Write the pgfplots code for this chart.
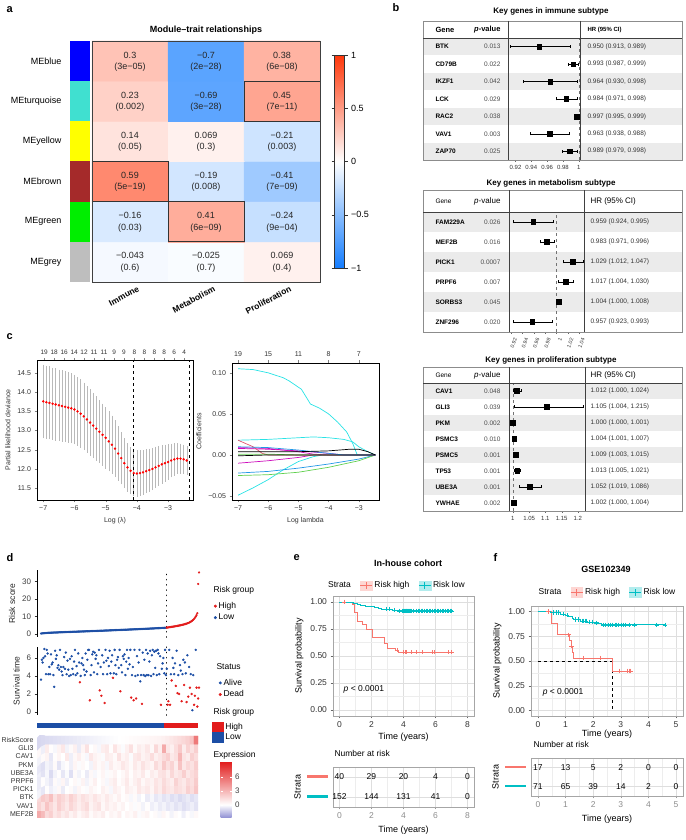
\documentclass[border=0pt]{standalone}
\usepackage{fontspec}
\setmainfont{Liberation Sans}
\usepackage{pgfplots}
\pgfplotsset{compat=1.18}
\definecolor{kmred}{RGB}{248,118,109}
\definecolor{kmteal}{RGB}{0,191,196}
\definecolor{dred}{RGB}{226,28,28}
\definecolor{dblue}{RGB}{28,78,165}
\definecolor{rred}{RGB}{223,83,107}
\definecolor{rgreen}{RGB}{97,208,79}
\definecolor{rblue}{RGB}{34,151,230}
\definecolor{rcyan}{RGB}{40,226,229}
\definecolor{rmag}{RGB}{205,11,188}
\definecolor{rowgray}{RGB}{235,235,235}
\definecolor{stripblue}{RGB}{0,0,255}
\definecolor{stripturq}{RGB}{64,224,208}
\definecolor{stripyellow}{RGB}{255,255,0}
\definecolor{stripbrown}{RGB}{165,42,42}
\definecolor{stripgreen}{RGB}{0,238,0}
\definecolor{stripgrey}{RGB}{190,190,190}
\newcommand\fs[1]{\fontsize{#1}{#1}\selectfont}
\newcommand\frow[5]{%
\node[anchor=west, font=\fs{6.5}\bfseries] at (432,#1) {#2};
\node[anchor=east, font=\fs{6.5}, text=black!70] at (504,#1) {#3};
\node[anchor=west, font=\fs{6.5}, text=black!80] at (#5,#1) {#4};}
\newcommand\kmkey[1]{\fill[#1!30] (0cm,-0.17cm) rectangle (0.42cm,0.17cm); \draw[#1, line width=0.7pt] (0cm,0cm) -- (0.42cm,0cm) (0.21cm,-0.11cm) -- (0.21cm,0.11cm);}
\pgfplotsset{every axis/.append style={scale only axis},
  /pgf/number format/assume math mode=true}
\begin{document}
\begin{tikzpicture}[font=\fs{7}]
\path[use as bounding box] (0,0) rectangle (685pt,840pt);

% ---------- backgrounds (pixel coordinates) ----------
\begin{scope}[x=1pt,y=-1pt,shift={(0pt,840pt)}]
\fill[rowgray] (423,38) rectangle (682,55.43);
\fill[rowgray] (423,72.86) rectangle (682,90.29);
\fill[rowgray] (423,107.71) rectangle (682,125.14);
\fill[rowgray] (423,142.57) rectangle (682,160);
\fill[rowgray] (423,212) rectangle (682,232);
\fill[rowgray] (423,252) rectangle (682,272);
\fill[rowgray] (423,292) rectangle (682,312);
\fill[rowgray] (423,383) rectangle (682,399);
\fill[rowgray] (423,415) rectangle (682,431);
\fill[rowgray] (423,447) rectangle (682,463);
\fill[rowgray] (423,479) rectangle (682,495);
\end{scope}

% ---------- panel a ----------
\begin{axis}[at={(92pt,799pt)}, anchor=north west, width=228pt, height=241pt,
  xmin=-0.5, xmax=2.5, ymin=-0.5, ymax=5.5, clip=false, axis on top,
  axis line style={black!75, line width=0.9pt},
  colormap={bwr}{rgb255(0cm)=(20,125,255); rgb255(1cm)=(255,255,255); rgb255(2cm)=(255,55,10)},
  point meta min=-1, point meta max=1,
  xtick={0,1,2}, xticklabels={Immune,Metabolism,Proliferation},
  xticklabel style={rotate=28, anchor=north east, font=\fs{8.5}\bfseries, xshift=8pt, yshift=-3pt},
  ytick={0,1,2,3,4,5}, yticklabels={MEgrey,MEgreen,MEbrown,MEyellow,MEturquoise,MEblue},
  yticklabel style={xshift=-27pt, font=\fs{9}},
  major tick length=0pt,
  title={Module–trait relationships}, title style={font=\fs{9}\bfseries, yshift=-3pt},
  colorbar,
  colorbar style={anchor=north west, at={(parent axis.north east)}, xshift=6pt, yshift=-14pt,
     width=10pt, height=213pt, ytick={-1,-0.5,0,0.5,1}, yticklabels={−1,−0.5,0,0.5,1},
     yticklabel style={font=\fs{9}}, tick align=outside, major tick length=3pt,
     axis line style={black!80}, tick style={black!80}}]
\addplot[matrix plot*, mesh/cols=3, point meta=explicit] table[meta=c] {
x y c
0 0 -0.043
1 0 -0.025
2 0 0.069
0 1 -0.16
1 1 0.41
2 1 -0.24
0 2 0.59
1 2 -0.19
2 2 -0.41
0 3 0.14
1 3 0.069
2 3 -0.21
0 4 0.23
1 4 -0.69
2 4 0.45
0 5 0.3
1 5 -0.7
2 5 0.38
};
\addplot[draw=none, nodes near coords, point meta=explicit symbolic,
  every node near coord/.append style={anchor=center, font=\fs{9}, text=black!85}] table[meta=t] {
x y t
0 5.15 0.3
1 5.15 −0.7
2 5.15 0.38
0 4.15 0.23
1 4.15 −0.69
2 4.15 0.45
0 3.15 0.14
1 3.15 0.069
2 3.15 −0.21
0 2.15 0.59
1 2.15 −0.19
2 2.15 −0.41
0 1.15 −0.16
1 1.15 0.41
2 1.15 −0.24
0 0.15 −0.043
1 0.15 −0.025
2 0.15 0.069
};
\addplot[draw=none, nodes near coords, point meta=explicit symbolic,
  every node near coord/.append style={anchor=center, font=\fs{9}, text=black!85}] table[meta=t] {
x y t
0 4.85 (3e−05)
1 4.85 (2e−28)
2 4.85 (6e−08)
0 3.85 (0.002)
1 3.85 (3e−28)
2 3.85 (7e−11)
0 2.85 (0.05)
1 2.85 (0.3)
2 2.85 (0.003)
0 1.85 (5e−19)
1 1.85 (0.008)
2 1.85 (7e−09)
0 0.85 (0.03)
1 0.85 (6e−09)
2 0.85 (9e−04)
0 -0.15 (0.6)
1 -0.15 (0.7)
2 -0.15 (0.4)
};
\fill[stripblue] (axis cs:-0.79,4.5) rectangle (axis cs:-0.53,5.5);
\fill[stripturq] (axis cs:-0.79,3.5) rectangle (axis cs:-0.53,4.5);
\fill[stripyellow] (axis cs:-0.79,2.5) rectangle (axis cs:-0.53,3.5);
\fill[stripbrown] (axis cs:-0.79,1.5) rectangle (axis cs:-0.53,2.5);
\fill[stripgreen] (axis cs:-0.79,0.5) rectangle (axis cs:-0.53,1.5);
\fill[stripgrey] (axis cs:-0.79,-0.5) rectangle (axis cs:-0.53,0.5);
\draw[black!80, line width=0.9pt] (axis cs:-0.5,1.5) rectangle (axis cs:0.5,2.5);
\draw[black!80, line width=0.9pt] (axis cs:0.5,0.5) rectangle (axis cs:1.5,1.5);
\draw[black!80, line width=0.9pt] (axis cs:1.5,3.5) rectangle (axis cs:2.5,4.5);
\end{axis}

% ---------- panel b: forest plots ----------
\begin{axis}[at={(508pt,802pt)}, anchor=north west, width=72pt, height=122pt,
  xmin=0.9105, xmax=1.0016, ymin=0.5, ymax=7.5, clip=false,
  axis y line=none, axis x line*=bottom, axis line style={black!60, line width=0.6pt},
  xtick={0.92,0.94,0.96,0.98,1}, xticklabels={0.92,0.94,0.96,0.98,1},
  tick align=outside, major tick length=2pt, tick style={black!60},
  xticklabel style={font=\fs{6}, text=black!80}]
\addplot[black!55, dashed] coordinates {(1,0.5) (1,7.5)};
\addplot[only marks, mark=square*, mark size=2.4pt, black,
  error bars/.cd, x dir=both, x explicit, error bar style={black, line width=0.45pt},
  error mark options={rotate=90, mark size=1.5pt, black}]
  coordinates {
  (0.950,7) += (0.039,0) -= (0.037,0)
  (0.993,6) += (0.006,0) -= (0.006,0)
  (0.964,5) += (0.034,0) -= (0.034,0)
  (0.984,4) += (0.014,0) -= (0.013,0)
  (0.997,3) += (0.002,0) -= (0.002,0)
  (0.963,2) += (0.025,0) -= (0.025,0)
  (0.989,1) += (0.009,0) -= (0.010,0)
};
\end{axis}

\begin{axis}[at={(509pt,628pt)}, anchor=north west, width=75pt, height=120pt,
  xmin=0.916, xmax=1.049, ymin=0.5, ymax=6.5, clip=false,
  axis y line=none, axis x line*=bottom, axis line style={black!60, line width=0.6pt},
  xtick={0.92,0.94,0.96,0.98,1,1.02,1.04}, xticklabels={0.92,0.94,0.96,0.98,1,1.02,1.04},
  tick align=outside, major tick length=2pt, tick style={black!60},
  xticklabel style={font=\fs{5.2}, text=black!80, rotate=70, anchor=north east, xshift=1pt}]
\addplot[black!55, dashed] coordinates {(1,0.5) (1,6.5)};
\addplot[only marks, mark=square*, mark size=2.4pt, black,
  error bars/.cd, x dir=both, x explicit, error bar style={black, line width=0.45pt},
  error mark options={rotate=90, mark size=1.5pt, black}]
  coordinates {
  (0.959,6) += (0.036,0) -= (0.035,0)
  (0.983,5) += (0.013,0) -= (0.012,0)
  (1.029,4) += (0.018,0) -= (0.017,0)
  (1.017,3) += (0.013,0) -= (0.013,0)
  (1.004,2) += (0.004,0) -= (0.004,0)
  (0.957,1) += (0.036,0) -= (0.034,0)
};
\end{axis}

\begin{axis}[at={(509pt,457pt)}, anchor=north west, width=76pt, height=128pt,
  xmin=0.988, xmax=1.222, ymin=0.5, ymax=8.5, clip=false,
  axis y line=none, axis x line*=bottom, axis line style={black!60, line width=0.6pt},
  xtick={1,1.05,1.1,1.15,1.2}, xticklabels={1,1.05,1.1,1.15,1.2},
  tick align=outside, major tick length=2pt, tick style={black!60},
  xticklabel style={font=\fs{6}, text=black!80}]
\addplot[black!55, dashed] coordinates {(1,0.5) (1,8.5)};
\addplot[only marks, mark=square*, mark size=2.4pt, black,
  error bars/.cd, x dir=both, x explicit, error bar style={black, line width=0.45pt},
  error mark options={rotate=90, mark size=1.5pt, black}]
  coordinates {
  (1.012,8) += (0.012,0) -= (0.012,0)
  (1.105,7) += (0.110,0) -= (0.101,0)
  (1.000,6) += (0.001,0) -= (0.000,0)
  (1.004,5) += (0.003,0) -= (0.003,0)
  (1.009,4) += (0.006,0) -= (0.006,0)
  (1.013,3) += (0.008,0) -= (0.008,0)
  (1.052,2) += (0.034,0) -= (0.033,0)
  (1.002,1) += (0.002,0) -= (0.002,0)
};
\end{axis}

% ---------- panel c left ----------
\begin{axis}[at={(37pt,480pt)}, anchor=north west, width=156pt, height=140pt,
  xmin=-7.2, xmax=-2.2, ymin=11.19, ymax=14.84,
  xtick={-7,-6,-5,-4,-3}, xticklabels={−7,−6,−5,−4,−3},
  ytick={11.5,12,12.5,13,13.5,14,14.5}, yticklabels={11.5,12.0,12.5,13.0,13.5,14.0,14.5},
  tick align=outside, tick pos=left, major tick length=2.5pt,
  tick label style={font=\fs{7}, text=black!80},
  xlabel={Log (λ)}, ylabel={Partial likelihood deviance}, label style={font=\fs{7}, text=black!80},
  axis line style={line width=0.7pt}]
\addplot[only marks, mark=*, mark size=1pt, red,
  error bars/.cd, y dir=both, y explicit, error bar style={gray!55, line width=0.5pt},
  error mark options={gray!55, mark size=1.6pt, line width=0.5pt}]
  table[x=x, y=y, y error=e] {
x y e
-7.0 13.76 0.92
-6.9 13.74 0.91
-6.8 13.72 0.91
-6.7 13.70 0.90
-6.6 13.68 0.90
-6.5 13.66 0.89
-6.4 13.64 0.89
-6.3 13.62 0.88
-6.2 13.60 0.88
-6.1 13.58 0.87
-6.0 13.55 0.87
-5.9 13.50 0.86
-5.8 13.44 0.85
-5.7 13.37 0.84
-5.6 13.29 0.83
-5.5 13.21 0.82
-5.4 13.13 0.81
-5.3 13.05 0.80
-5.2 12.97 0.78
-5.1 12.89 0.77
-5.0 12.81 0.76
-4.9 12.72 0.74
-4.8 12.63 0.72
-4.7 12.53 0.70
-4.6 12.40 0.67
-4.5 12.28 0.64
-4.4 12.15 0.61
-4.3 12.04 0.59
-4.2 11.95 0.57
-4.1 11.89 0.56
-4.0 11.88 0.56
-3.9 11.89 0.55
-3.8 11.91 0.54
-3.7 11.94 0.53
-3.6 11.97 0.52
-3.5 12.00 0.51
-3.4 12.04 0.50
-3.3 12.08 0.48
-3.2 12.12 0.46
-3.1 12.15 0.44
-3.0 12.18 0.42
-2.9 12.22 0.40
-2.8 12.25 0.38
-2.7 12.27 0.36
-2.6 12.27 0.35
-2.5 12.25 0.34
-2.4 12.22 0.34
};
\addplot[black, dashed, line width=0.7pt] coordinates {(-4.1,11.19) (-4.1,14.84)};
\addplot[black, dashed, line width=0.7pt] coordinates {(-2.33,11.19) (-2.33,14.84)};
\end{axis}
\begin{axis}[at={(37pt,480pt)}, anchor=north west, width=156pt, height=140pt,
  xmin=-7.2, xmax=-2.2, ymin=0, ymax=1, axis x line*=top, axis y line=none,
  axis line style={line width=0.7pt},
  xtick={-6.97,-6.65,-6.33,-6.01,-5.69,-5.37,-5.05,-4.73,-4.41,-4.08,-3.76,-3.44,-3.12,-2.80,-2.48},
  xticklabels={19,18,16,14,12,11,11,9,9,8,8,8,8,6,4},
  tick align=outside, major tick length=1.5pt, xticklabel style={font=\fs{6.5}, text=black!80}]
\addplot[draw=none] coordinates {(-5,0.5)};
\end{axis}

% ---------- panel c right ----------
\begin{axis}[at={(232pt,477pt)}, anchor=north west, width=147pt, height=137pt,
  xmin=-7.2, xmax=-2.33, ymin=-0.0548, ymax=0.112,
  xtick={-7,-6,-5,-4,-3}, xticklabels={−7,−6,−5,−4,−3},
  ytick={-0.05,0,0.05,0.1}, yticklabels={−0.05,0.00,0.05,0.10},
  tick align=outside, tick pos=left, major tick length=2.5pt,
  tick label style={font=\fs{7}, text=black!80},
  xlabel={Log lambda}, ylabel={Coefficients}, label style={font=\fs{7}, text=black!80},
  axis line style={line width=0.7pt}]
\addplot[rcyan, line width=0.7pt] coordinates {(-7,0.105)(-6.5,0.104)(-6,0.100)(-5.5,0.094)(-5.3,0.090)(-4.9,0.080)(-4.6,0.062)(-4.3,0.057)(-4.0,0.050)(-3.7,0.040)(-3.4,0.028)(-3.2,0.014)(-3.05,0)(-2.45,0)};
\addplot[rcyan, line width=0.7pt] coordinates {(-7,0.018)(-6,0.019)(-5,0.021)(-4.5,0.022)(-4,0.021)(-3.5,0.019)(-3.2,0.016)(-3,0.010)(-2.7,0.004)(-2.45,0)};
\addplot[rcyan, line width=0.7pt] coordinates {(-7,-0.049)(-6.5,-0.040)(-6,-0.030)(-5.5,-0.018)(-5,-0.008)(-4.5,-0.002)(-4.2,0)(-2.45,0)};
\addplot[rblue, line width=0.7pt] coordinates {(-7,-0.022)(-6,-0.020)(-5,-0.016)(-4,-0.011)(-3,-0.005)(-2.45,0)};
\addplot[rgreen, line width=0.7pt] coordinates {(-7,-0.025)(-6,-0.024)(-5,-0.021)(-4,-0.015)(-3,-0.007)(-2.45,0)};
\addplot[rmag, line width=0.7pt] coordinates {(-7,0.008)(-6,0.007)(-5,0.005)(-4,0.002)(-3.5,0)(-2.45,0)};
\addplot[rmag, line width=0.7pt] coordinates {(-7,-0.010)(-6,-0.007)(-5,-0.003)(-4.5,0)(-2.45,0)};
\addplot[rmag, line width=0.7pt] coordinates {(-7,0.009)(-6,0.008)(-5,0.004)(-4.5,0.001)(-4,0)(-2.45,0)};
\addplot[rred, line width=0.7pt] coordinates {(-7,0.018)(-6.5,0.010)(-6.2,0.002)(-6,0)(-2.45,0)};
\addplot[rgreen, line width=0.7pt] coordinates {(-7,0.001)(-6,0.001)(-5,0)(-2.45,0)};
\addplot[rblue, line width=0.7pt] coordinates {(-7,0.010)(-6,0.009)(-5,0.006)(-4,0.002)(-3.5,0)(-2.45,0)};
\addplot[black, line width=0.7pt] coordinates {(-7,-0.001)(-6,0)(-2.45,0)};
\addplot[black, line width=0.7pt] coordinates {(-7,0.004)(-6,0.004)(-5,0.004)(-4,0.005)(-3.3,0.007)(-3,0.007)(-2.7,0.004)(-2.45,0)};
\end{axis}
\begin{axis}[at={(232pt,477pt)}, anchor=north west, width=147pt, height=137pt,
  xmin=-7.2, xmax=-2.33, ymin=0, ymax=1, axis x line*=top, axis y line=none,
  axis line style={line width=0.7pt},
  xtick={-7,-6,-5,-4,-3}, xticklabels={19,15,11,8,7},
  tick align=outside, major tick length=2.5pt, xticklabel style={font=\fs{7}, text=black!80}]
\addplot[draw=none] coordinates {(-5,0.5)};
\end{axis}

% ---------- panel d ----------
\begin{axis}[at={(37pt,270pt)}, anchor=north west, width=164pt, height=67pt,
  xmin=-3.84, xmax=194.4, ymin=-1.7, ymax=36.6, clip=false,
  axis x line=none, axis y line*=left, ytick={0,10,20,30},
  tick align=outside, major tick length=2.5pt, tick style={black!80},
  yticklabel style={font=\fs{8}, text=black!75}, ylabel={Risk score}, ylabel style={font=\fs{8.5}, text=black!85},
  legend style={at={(1.06,0.58)}, anchor=north west, draw=none, fill=none, font=\fs{8.5}, row sep=0pt},
  legend cell align=left]
\addplot[only marks, mark=*, mark size=0.9pt, dblue, forget plot]
  table[header=false, row sep=\\, x expr=\coordindex+1, y index=0] {
0.28\\0.35\\0.41\\0.46\\0.50\\0.54\\0.58\\0.61\\0.64\\0.67\\
0.70\\0.72\\0.75\\0.77\\0.79\\0.82\\0.84\\0.86\\0.88\\0.90\\
0.92\\0.94\\0.96\\0.98\\1.00\\1.02\\1.04\\1.06\\1.08\\1.10\\
1.12\\1.13\\1.15\\1.17\\1.19\\1.21\\1.22\\1.24\\1.26\\1.28\\
1.30\\1.31\\1.33\\1.35\\1.37\\1.38\\1.40\\1.42\\1.44\\1.45\\
1.47\\1.49\\1.51\\1.52\\1.54\\1.56\\1.58\\1.59\\1.61\\1.63\\
1.65\\1.67\\1.68\\1.70\\1.72\\1.74\\1.76\\1.77\\1.79\\1.81\\
1.83\\1.85\\1.87\\1.88\\1.90\\1.92\\1.94\\1.96\\1.98\\2.00\\
2.02\\2.04\\2.06\\2.08\\2.10\\2.12\\2.14\\2.16\\2.18\\2.20\\
2.22\\2.24\\2.26\\2.28\\2.30\\2.32\\2.34\\2.36\\2.38\\2.40\\
2.42\\2.44\\2.46\\2.48\\2.50\\2.52\\2.54\\2.57\\2.59\\2.61\\
2.63\\2.65\\2.67\\2.69\\2.71\\2.73\\2.76\\2.78\\2.80\\2.82\\
2.84\\2.86\\2.88\\2.91\\2.93\\2.95\\2.97\\2.99\\3.02\\3.04\\
3.06\\3.08\\3.11\\3.13\\3.15\\3.18\\3.20\\3.22\\3.25\\3.27\\
3.30\\3.32\\3.35\\3.37\\3.40\\3.42\\3.45\\3.48\\3.50\\3.53\\
3.56\\3.59\\
};
\addplot[only marks, mark=*, mark size=0.9pt, dred, forget plot]
  table[header=false, row sep=\\, x expr=\coordindex+153, y index=0] {
3.65\\3.72\\3.80\\3.88\\3.95\\4.03\\4.10\\4.18\\4.25\\4.33\\
4.41\\4.50\\4.58\\4.67\\4.76\\4.86\\4.96\\5.06\\5.17\\5.28\\
5.40\\5.53\\5.66\\5.80\\5.96\\6.13\\6.32\\6.53\\6.77\\7.05\\
7.36\\7.72\\8.15\\8.65\\9.25\\9.95\\10.8\\11.9\\28.6\\35.2\\
};
\addplot[black, line width=1.6pt, dash pattern=on 0.01pt off 5.2pt, line cap=round, forget plot]
  coordinates {(152.5,-1.7) (152.5,36.6)};
\addlegendimage{only marks, mark=*, mark size=1.3pt, dred}
\addlegendentry{High}
\addlegendimage{only marks, mark=*, mark size=1.3pt, dblue}
\addlegendentry{Low}
\end{axis}

\begin{axis}[at={(37pt,193pt)}, anchor=north west, width=164pt, height=68pt,
  xmin=-3.84, xmax=194.4, ymin=-0.333, ymax=7.22, clip=false,
  axis x line=none, axis y line*=left, ytick={0,2,4,6},
  tick align=outside, major tick length=2.5pt, tick style={black!80},
  yticklabel style={font=\fs{8}, text=black!75}, ylabel={Survival time}, ylabel style={font=\fs{8.5}, text=black!85},
  legend style={at={(1.09,0.59)}, anchor=north west, draw=none, fill=none, font=\fs{8.5}, row sep=0pt},
  legend cell align=left]
\addplot[only marks, mark=*, mark size=1pt, dblue, forget plot] coordinates {
(1,3.6)(2,5.8)(3,5.5)(4,6.0)(5,7.0)(6,6.2)(7,4.2)(8,6.9)(9,6.5)(10,4.2)(11,5.0)(12,4.2)(13,6.4)(14,5.3)(15,5.5)(16,4.1)(17,2.8)(18,6.8)(19,5.9)(20,6.3)(21,4.9)(22,5.2)(23,4.7)(24,6.9)(25,5.0)(26,4.5)(27,4.1)(28,5.0)(29,6.1)(30,4.8)(31,6.6)(32,4.2)(33,5.7)(34,4.7)(35,4.0)(36,5.9)(37,4.1)(38,6.2)(39,4.8)(40,4.2)(41,5.6)(42,6.9)(43,4.1)(44,5.1)(45,4.3)(46,6.5)(47,5.5)(49,4.0)(50,5.4)(51,6.0)(52,5.2)(53,4.7)(54,4.1)(55,6.5)(56,4.5)(57,5.8)(58,6.9)(59,6.9)(61,4.1)(62,5.2)(63,6.4)(64,6.7)(65,4.4)(66,6.6)(67,5.9)(68,6.3)(69,4.2)(70,5.4)(71,6.9)(73,5.0)(75,6.3)(76,4.2)(77,5.5)(79,6.9)(80,5.7)(81,4.2)(82,6.0)(83,5.1)(84,6.8)(85,4.3)(86,5.6)(87,6.3)(89,4.3)(90,6.9)(91,5.2)(92,4.2)(93,5.8)(94,6.1)(95,4.9)(96,6.9)(98,5.2)(99,4.4)(100,6.2)(101,5.9)(102,6.4)(103,4.1)(104,5.6)(105,6.9)(106,4.8)(107,6.0)(108,5.3)(109,6.9)(111,4.1)(112,5.0)(114,6.9)(115,4.0)(117,6.2)(118,4.1)(119,5.5)(120,6.9)(121,3.4)(122,4.1)(124,6.6)(125,4.1)(126,5.8)(127,4.0)(128,6.9)(129,4.1)(130,6.5)(131,4.1)(132,5.6)(133,6.8)(134,4.0)(135,6.3)(136,6.9)(137,4.2)(138,6.7)(139,4.9)(140,6.8)(141,4.1)(142,6.9)(143,6.5)(144,4.2)(145,6.2)(147,4.8)(148,5.4)(149,6.0)(150,4.3)(151,6.9)(152,4.1)
(153,4.8)(156,6.9)(158,4.2)(160,6.0)(161,4.9)(162,4.2)(163,5.4)(165,6.8)(167,4.1)(169,5.2)(170,4.6)(172,4.2)(173,5.8)(175,5.5)(176,4.3)(178,6.3)(180,5.0)(182,4.2)(184,0.2)(185,4.1)(188,6.9)
};
\addplot[only marks, mark=*, mark size=1pt, dred, forget plot] coordinates {
(48,3.3)(60,1.3)(72,2.4)(74,1.8)(78,1.0)(88,3.8)(97,2.3)(110,1.6)(113,1.3)(116,1.5)(123,0.9)(146,0.8)(154,0.8)(155,1.2)(157,0.8)(159,3.5)(164,2.9)(166,2.1)(168,2.0)(171,1.2)(174,3.0)(177,1.1)(179,1.7)(181,2.7)(183,2.0)(186,0.8)(187,1.8)(189,2.7)(190,0.6)(191,1.5)(192,2.7)
};
\addplot[black, line width=1.6pt, dash pattern=on 0.01pt off 5.2pt, line cap=round, forget plot]
  coordinates {(152.5,-0.333) (152.5,7.22)};
\addlegendimage{only marks, mark=*, mark size=1.3pt, dblue}
\addlegendentry{Alive}
\addlegendimage{only marks, mark=*, mark size=1.3pt, dred}
\addlegendentry{Dead}
\end{axis}

\begin{axis}[at={(37pt,117pt)}, anchor=north west, width=161pt, height=5pt,
  xmin=0.5, xmax=192.5, ymin=0, ymax=1, hide axis, clip=false,
  legend style={at={(1.087,1.4)}, anchor=north west, draw=none, fill=none, font=\fs{8.5}, row sep=-1pt, inner sep=0pt},
  legend cell align=left]
\addplot[fill=dblue, draw=none, forget plot] coordinates {(0.5,1) (152.5,1)} \closedcycle;
\addplot[fill=dred, draw=none, forget plot] coordinates {(152.5,1) (192.5,1)} \closedcycle;
\addlegendimage{legend image code/.code={\fill[dred] (0cm,-0.18cm) rectangle (0.38cm,0.18cm);}}
\addlegendentry{High}
\addlegendimage{legend image code/.code={\fill[dblue] (0cm,-0.18cm) rectangle (0.38cm,0.18cm);}}
\addlegendentry{Low}
\end{axis}

\begin{axis}[at={(37pt,104pt)}, anchor=north west, width=161pt, height=82pt,
  xmin=-0.5, xmax=39.5, ymin=-0.5, ymax=9.5,
  axis line style={draw=none}, xtick=\empty, ytick={0,1,2,3,4,5,6,7,8,9},
  yticklabels={MEF2B,VAV1,BTK,PICK1,PRPF6,UBE3A,PKM,CAV1,GLI3,RiskScore},
  yticklabel style={font=\fs{7}, text=black!80}, major tick length=0pt,
  colormap={expr}{rgb255(0cm)=(140,140,210); rgb255(2.9cm)=(255,255,255); rgb255(12.2cm)=(226,30,30)},
  point meta min=-2.9, point meta max=9.3,
  colorbar, colorbar style={anchor=north west, at={(parent axis.north east)}, xshift=14pt, yshift=-26pt,
    width=11pt, height=56pt, ytick={0,3,6}, yticklabel style={font=\fs{8}, text=black!75},
    axis line style={draw=none}, major tick length=2pt, tick style={white}}]
\addplot[matrix plot*, mesh/cols=40, point meta=explicit]
  table[header=false, row sep=\\, x expr={mod(\coordindex,40)}, y expr={floor(\coordindex/40)}, meta index=0] {
3.5\\2.8\\1.5\\2.0\\1.0\\1.4\\0.8\\1.2\\0.5\\0.9\\0.3\\0.7\\1.0\\0.2\\0.6\\0.4\\0.8\\0.1\\0.5\\0.3\\0.7\\0.0\\0.4\\0.2\\0.6\\-0.1\\0.3\\0.5\\0.0\\0.2\\-0.2\\0.4\\0.1\\-0.3\\0.2\\0.0\\-0.4\\0.1\\-0.2\\0.3\\
1.8\\1.2\\2.4\\1.6\\1.0\\2.0\\1.4\\0.9\\1.7\\1.2\\0.7\\1.1\\1.5\\0.5\\0.9\\1.2\\0.3\\0.8\\0.4\\0.6\\0.2\\0.5\\0.0\\0.3\\-0.1\\0.2\\-0.3\\0.1\\-0.4\\-0.2\\-0.5\\-0.3\\-0.6\\-0.4\\-0.7\\-0.5\\-0.8\\-0.6\\-0.4\\-0.7\\
1.5\\2.2\\1.8\\2.6\\1.2\\2.0\\1.6\\1.1\\1.9\\1.4\\0.8\\1.3\\1.0\\0.6\\1.1\\0.7\\0.4\\0.9\\0.5\\0.2\\0.6\\0.1\\0.3\\-0.2\\0.2\\-0.3\\0.0\\-0.5\\-0.2\\-0.6\\-0.4\\-0.7\\-0.5\\-0.8\\-0.6\\-0.9\\-0.7\\-0.5\\-0.8\\-0.6\\
-0.3\\-0.6\\0.1\\-0.4\\-0.2\\0.3\\-0.5\\0.0\\0.2\\-0.3\\0.4\\0.1\\-0.1\\0.5\\0.2\\0.0\\0.6\\0.3\\-0.2\\0.7\\0.4\\0.1\\0.8\\0.5\\0.3\\1.0\\0.6\\0.9\\0.4\\1.2\\0.8\\1.6\\1.1\\0.9\\1.5\\1.3\\1.0\\1.9\\1.4\\2.3\\
-0.5\\0.1\\-0.3\\-0.6\\0.2\\-0.2\\0.4\\-0.4\\0.0\\0.3\\-0.1\\0.5\\-0.3\\0.2\\0.6\\0.0\\0.3\\-0.2\\0.5\\0.8\\0.1\\0.4\\0.9\\0.2\\0.6\\1.0\\0.3\\0.7\\0.5\\1.1\\0.8\\1.5\\1.0\\0.7\\1.8\\1.2\\0.9\\1.6\\1.3\\2.1\\
-0.4\\-0.7\\-0.2\\-0.9\\-0.3\\0.1\\-0.6\\-0.1\\-0.8\\0.2\\-0.3\\0.0\\-0.5\\0.3\\-0.2\\0.1\\0.4\\-0.1\\0.2\\0.5\\0.0\\0.3\\0.7\\0.1\\0.6\\0.4\\0.9\\0.2\\0.8\\0.5\\1.1\\1.3\\0.7\\1.6\\0.9\\1.2\\2.0\\1.0\\1.4\\1.8\\
-0.6\\-0.8\\-0.3\\-0.5\\0.2\\-0.7\\-0.2\\0.1\\-0.4\\0.4\\-0.1\\0.3\\0.0\\-0.3\\0.6\\0.2\\0.5\\-0.2\\0.8\\0.3\\0.4\\1.0\\0.6\\0.2\\0.9\\0.5\\1.2\\0.7\\0.4\\1.5\\0.9\\2.2\\1.3\\1.8\\0.8\\2.5\\1.0\\1.6\\1.2\\2.0\\
-0.3\\0.2\\0.5\\-0.6\\0.1\\0.4\\0.0\\0.9\\-0.4\\0.3\\0.7\\0.2\\-0.2\\1.0\\0.5\\0.3\\-0.1\\0.8\\0.6\\0.2\\1.2\\0.4\\0.7\\-0.1\\0.9\\1.1\\0.5\\0.8\\1.4\\0.6\\1.0\\1.5\\2.0\\0.9\\1.3\\3.0\\1.1\\0.8\\1.9\\1.4\\
0.3\\-0.4\\0.8\\0.1\\-0.2\\0.5\\1.0\\-0.3\\0.2\\0.6\\-0.5\\0.4\\1.2\\0.0\\0.3\\-0.2\\0.7\\0.9\\0.1\\1.1\\0.4\\-0.1\\0.6\\1.3\\0.2\\0.8\\0.5\\1.0\\0.3\\1.6\\0.7\\3.5\\1.0\\0.6\\1.4\\2.2\\0.8\\1.8\\1.2\\2.0\\
-1.0\\-0.95\\-0.9\\-0.85\\-0.8\\-0.75\\-0.7\\-0.65\\-0.6\\-0.55\\-0.5\\-0.45\\-0.4\\-0.35\\-0.3\\-0.25\\-0.2\\-0.15\\-0.1\\-0.05\\0\\0.05\\0.1\\0.15\\0.2\\0.25\\0.3\\0.35\\0.4\\0.45\\0.5\\0.6\\0.8\\1.0\\1.2\\1.4\\1.6\\1.9\\2.4\\5.5\\
};
\end{axis}

% ---------- panel e ----------
\begin{axis}[at={(333pt,244pt)}, anchor=north west, width=141pt, height=120pt,
  xmin=-0.4, xmax=8.4, ymin=-0.055, ymax=1.055,
  xtick={0,2,4,6,8}, minor xtick={1,3,5,7},
  ytick={0,0.25,0.5,0.75,1}, yticklabels={0.00,0.25,0.50,0.75,1.00}, minor ytick={0.125,0.375,0.625,0.875},
  grid=both, major grid style={black!13, line width=0.5pt}, minor grid style={black!7, line width=0.35pt},
  axis line style={black!35}, tick pos=left, tick align=outside, major tick length=2.5pt, minor tick length=0pt,
  tick style={black!60}, tick label style={font=\fs{8.5}, text=black!80},
  xlabel={Time (years)}, ylabel={Survival probability}, label style={font=\fs{9}},
  xlabel style={yshift=2pt},
  legend columns=3, legend style={at={(0.45,1.02)}, anchor=south, draw=none, fill=none, font=\fs{8.5},
    /tikz/every even column/.append style={column sep=7pt}},
  legend cell align=left]
\addplot[const plot, kmred, line width=0.7pt, forget plot] coordinates {
(0,1)(0.8,0.975)(0.95,0.90)(1.1,0.82)(1.45,0.795)(1.7,0.745)(2.05,0.67)(2.8,0.62)(3.0,0.575)(3.5,0.555)(3.7,0.535)(7.0,0.535)};
\addplot[only marks, mark=+, mark size=2.2pt, kmred, line width=0.5pt, forget plot] coordinates {
(0.3,1)(3.6,0.555)(4.0,0.535)(4.1,0.535)(4.2,0.535)(4.5,0.535)(4.8,0.535)(5.2,0.535)(5.8,0.535)(5.9,0.535)(6.8,0.535)(7.0,0.535)};
\addplot[const plot, kmteal, line width=0.7pt, forget plot] coordinates {
(0,1)(0.6,0.993)(0.9,0.987)(1.1,0.98)(1.3,0.973)(1.6,0.962)(1.9,0.955)(2.2,0.948)(2.4,0.94)(2.6,0.933)(3.3,0.925)(3.6,0.918)(7.1,0.918)};
\addplot[only marks, mark=+, mark size=2.2pt, kmteal, line width=0.5pt, forget plot] coordinates {
(2.9,0.933)(3.1,0.933)(3.4,0.925)(3.75,0.918)(3.95,0.918)(4.0,0.918)(4.05,0.918)(4.1,0.918)(4.15,0.918)(4.2,0.918)(4.25,0.918)(4.3,0.918)(4.35,0.918)(4.4,0.918)(4.5,0.918)(4.6,0.918)(4.8,0.918)(4.9,0.918)(5.0,0.918)(5.1,0.918)(5.15,0.918)(5.2,0.918)(5.3,0.918)(5.4,0.918)(5.5,0.918)(5.6,0.918)(5.7,0.918)(5.8,0.918)(5.9,0.918)(6.0,0.918)(6.1,0.918)(6.2,0.918)(6.3,0.918)(6.4,0.918)(6.5,0.918)(6.6,0.918)(6.7,0.918)(6.8,0.918)(6.9,0.918)(7.0,0.918)};
\node[anchor=west, font=\fs{8.5}] at (axis cs:0.05,0.19) {\textit{p} < 0.0001};
\addlegendimage{empty legend}
\addlegendentry{Strata}
\addlegendimage{legend image code/.code={\kmkey{kmred}}}
\addlegendentry{Risk high}
\addlegendimage{legend image code/.code={\kmkey{kmteal}}}
\addlegendentry{Risk low}
\end{axis}

\begin{axis}[at={(333pt,73pt)}, anchor=north west, width=141pt, height=40pt,
  xmin=-0.4, xmax=8.4, ymin=0.5, ymax=2.5,
  xtick={0,2,4,6,8}, minor xtick={1,3,5,7}, ytick={1,2},
  yticklabels={{\textcolor{kmteal}{\rule[0.3ex]{21pt}{2.6pt}}},{\textcolor{kmred}{\rule[0.3ex]{21pt}{2.6pt}}}},
  grid=both, major grid style={black!13, line width=0.5pt}, minor grid style={black!7, line width=0.35pt},
  axis line style={black!35}, tick pos=left, tick align=outside, major tick length=2.5pt, minor tick length=0pt,
  tick style={black!40}, ytick style={draw=none}, yticklabel style={xshift=1.5pt},
  xticklabel style={font=\fs{8.5}, text=black!45},
  xlabel={Time (years)}, ylabel={Strata}, label style={font=\fs{9}},
  title={Number at risk}, title style={at={(0,1)}, anchor=south west, xshift=-2pt, yshift=1pt, font=\fs{8.5}}]
\addplot[draw=none, nodes near coords, point meta=explicit symbolic,
  every node near coord/.append style={anchor=center, font=\fs{8.5}}] table[meta=n] {
x y n
0 2 40
2 2 29
4 2 20
6 2 4
8 2 0
0 1 152
2 1 144
4 1 131
6 1 41
8 1 0
};
\end{axis}

% ---------- panel f ----------
\begin{axis}[at={(531pt,234pt)}, anchor=north west, width=152pt, height=110pt,
  xmin=-0.25, xmax=5.25, ymin=-0.055, ymax=1.055,
  xtick={0,1,2,3,4,5}, minor xtick={0.5,1.5,2.5,3.5,4.5},
  ytick={0,0.25,0.5,0.75,1}, yticklabels={0.00,0.25,0.50,0.75,1.00}, minor ytick={0.125,0.375,0.625,0.875},
  grid=both, major grid style={black!13, line width=0.5pt}, minor grid style={black!7, line width=0.35pt},
  axis line style={black!35}, tick pos=left, tick align=outside, major tick length=2.5pt, minor tick length=0pt,
  tick style={black!60}, tick label style={font=\fs{8.5}, text=black!80},
  xlabel={Time (years)}, ylabel={Survival probability}, label style={font=\fs{9}},
  xlabel style={yshift=5pt},
  legend columns=3, legend style={at={(0.5,1.05)}, anchor=south, draw=none, fill=none, font=\fs{8.5},
    /tikz/every even column/.append style={column sep=7pt}},
  legend cell align=left]
\addplot[black, dashed, line width=0.8pt, forget plot] coordinates {(0,0.5) (2.7,0.5) (2.7,0)};
\addplot[const plot, kmred, line width=0.7pt, forget plot] coordinates {
(0,1)(0.47,0.94)(0.5,0.88)(0.69,0.765)(1.15,0.71)(1.2,0.65)(1.25,0.59)(1.3,0.53)(2.7,0.40)(3.35,0.40)};
\addplot[only marks, mark=+, mark size=2.2pt, kmred, line width=0.5pt, forget plot] coordinates {
(0.37,1)(1.1,0.765)(1.22,0.65)(1.65,0.53)(2.25,0.53)(2.95,0.40)(3.25,0.40)(3.3,0.40)(3.35,0.40)};
\addplot[const plot, kmteal, line width=0.7pt, forget plot] coordinates {
(0,1)(0.45,0.99)(0.8,0.975)(1.0,0.962)(1.1,0.95)(1.25,0.935)(1.3,0.92)(1.55,0.905)(1.8,0.895)(2.0,0.885)(2.2,0.875)(2.3,0.865)(4.65,0.865)};
\addplot[only marks, mark=+, mark size=2.2pt, kmteal, line width=0.5pt, forget plot] coordinates {
(0.55,0.99)(0.65,0.99)(0.75,0.99)(0.9,0.975)(1.05,0.962)(1.35,0.92)(1.45,0.92)(1.6,0.905)(1.65,0.905)(1.7,0.905)(1.75,0.905)(1.85,0.895)(1.95,0.895)(2.1,0.885)(2.35,0.865)(2.45,0.865)(2.55,0.865)(2.6,0.865)(2.7,0.865)(2.8,0.865)(2.85,0.865)(2.9,0.865)(3.0,0.865)(3.1,0.865)(3.15,0.865)(3.3,0.865)(3.5,0.865)(4.3,0.865)(4.6,0.865)};
\node[anchor=west, font=\fs{8.5}] at (axis cs:0.05,0.18) {\textit{p} < 0.0001};
\addlegendimage{empty legend}
\addlegendentry{Strata}
\addlegendimage{legend image code/.code={\kmkey{kmred}}}
\addlegendentry{Risk high}
\addlegendimage{legend image code/.code={\kmkey{kmteal}}}
\addlegendentry{Risk low}
\end{axis}

\begin{axis}[at={(531pt,82pt)}, anchor=north west, width=152pt, height=38pt,
  xmin=-0.25, xmax=5.25, ymin=0.5, ymax=2.5,
  xtick={0,1,2,3,4,5}, minor xtick={0.5,1.5,2.5,3.5,4.5}, ytick={1,2},
  yticklabels={{\textcolor{kmteal}{\rule[0.3ex]{21pt}{2.6pt}}},{\textcolor{kmred}{\rule[0.3ex]{21pt}{2.6pt}}}},
  grid=both, major grid style={black!13, line width=0.5pt}, minor grid style={black!7, line width=0.35pt},
  axis line style={black!35}, tick pos=left, tick align=outside, major tick length=2.5pt, minor tick length=0pt,
  tick style={black!40}, ytick style={draw=none}, yticklabel style={xshift=1.5pt},
  xticklabel style={font=\fs{8.5}, text=black!45},
  xlabel={Time (years)}, ylabel={Strata}, label style={font=\fs{9}},
  title={Number at risk}, title style={at={(0,1)}, anchor=south west, xshift=-1pt, yshift=1pt, font=\fs{8.5}}]
\addplot[draw=none, nodes near coords, point meta=explicit symbolic,
  every node near coord/.append style={anchor=center, font=\fs{8.5}}] table[meta=n] {
x y n
0 2 17
1 2 13
2 2 5
3 2 2
4 2 0
5 2 0
0 1 71
1 1 65
2 1 39
3 1 14
4 1 2
5 1 0
};
\end{axis}

% ---------- overlays: table lines, texts, labels ----------
\begin{scope}[x=1pt,y=-1pt,shift={(0pt,840pt)}]
\node[anchor=west, font=\fs{11}\bfseries] at (3,10) {a};
\node[anchor=west, font=\fs{11}\bfseries] at (389,8) {b};
\node[anchor=west, font=\fs{11}\bfseries] at (3,337) {c};
\node[anchor=west, font=\fs{11}\bfseries] at (3,558) {d};
\node[anchor=west, font=\fs{11}\bfseries] at (290,558) {e};
\node[anchor=west, font=\fs{11}\bfseries] at (490,558) {f};
\node[font=\fs{8}\bfseries] at (551,11) {Key genes in immune subtype};
\node[font=\fs{8}\bfseries] at (551,183) {Key genes in metabolism subtype};
\node[font=\fs{8}\bfseries] at (551,360) {Key genes in proliferation subtype};
\draw[black!45, line width=0.6pt] (423,21) rectangle (682,160);
\draw[black!75, line width=0.7pt] (423,38) -- (682,38);
\draw[black!75, line width=0.6pt] (508,21) -- (508,160) (580,21) -- (580,160);
\draw[black!45, line width=0.6pt] (423,190) rectangle (682,332);
\draw[black!75, line width=0.7pt] (423,212) -- (682,212);
\draw[black!75, line width=0.6pt] (509,190) -- (509,332) (584,190) -- (584,332);
\draw[black!45, line width=0.6pt] (423,367) rectangle (682,511);
\draw[black!75, line width=0.7pt] (423,383) -- (682,383);
\draw[black!75, line width=0.6pt] (509,367) -- (509,511) (585,367) -- (585,511);
\node[anchor=west, font=\fs{7.5}\bfseries] at (432,29.5) {Gene};
\node[anchor=east, font=\fs{7.5}\bfseries] at (504,29.5) {\textit{p}-value};
\node[anchor=west, font=\fs{6}\bfseries] at (584,29.5) {HR (95\% CI)};
\node[anchor=west, font=\fs{6.5}] at (432,201) {Gene};
\node[anchor=east, font=\fs{8}] at (504,201) {\textit{p}-value};
\node[anchor=west, font=\fs{8}] at (587,201) {HR (95\% CI)};
\node[anchor=west, font=\fs{6.5}] at (432,375) {Gene};
\node[anchor=east, font=\fs{8}] at (504,375) {\textit{p}-value};
\node[anchor=west, font=\fs{8}] at (587,375) {HR (95\% CI)};
\frow{46.7}{BTK}{0.013}{0.950 (0.913, 0.989)}{584}
\frow{64.1}{CD79B}{0.022}{0.993 (0.987, 0.999)}{584}
\frow{81.6}{IKZF1}{0.042}{0.964 (0.930, 0.998)}{584}
\frow{99.0}{LCK}{0.029}{0.984 (0.971, 0.998)}{584}
\frow{116.4}{RAC2}{0.038}{0.997 (0.995, 0.999)}{584}
\frow{133.9}{VAV1}{0.003}{0.963 (0.938, 0.988)}{584}
\frow{151.3}{ZAP70}{0.025}{0.989 (0.979, 0.998)}{584}
\frow{222}{FAM229A}{0.026}{0.959 (0.924, 0.995)}{587}
\frow{242}{MEF2B}{0.016}{0.983 (0.971, 0.996)}{587}
\frow{262}{PICK1}{0.0007}{1.029 (1.012, 1.047)}{587}
\frow{282}{PRPF6}{0.007}{1.017 (1.004, 1.030)}{587}
\frow{302}{SORBS3}{0.045}{1.004 (1.000, 1.008)}{587}
\frow{322}{ZNF296}{0.020}{0.957 (0.923, 0.993)}{587}
\frow{391}{CAV1}{0.048}{1.012 (1.000, 1.024)}{587}
\frow{407}{GLI3}{0.039}{1.105 (1.004, 1.215)}{587}
\frow{423}{PKM}{0.002}{1.000 (1.000, 1.001)}{587}
\frow{439}{PSMC3}{0.010}{1.004 (1.001, 1.007)}{587}
\frow{455}{PSMC5}{0.001}{1.009 (1.003, 1.015)}{587}
\frow{471}{TP53}{0.001}{1.013 (1.005, 1.021)}{587}
\frow{487}{UBE3A}{0.001}{1.052 (1.019, 1.086)}{587}
\frow{503}{YWHAE}{0.002}{1.002 (1.000, 1.004)}{587}
\node[anchor=west, font=\fs{8.5}] at (210,590) {Risk group};
\node[anchor=west, font=\fs{8.5}] at (213,667) {Status};
\node[anchor=west, font=\fs{8.5}] at (210,712) {Risk group};
\node[anchor=west, font=\fs{8.5}] at (210,755) {Expression};
\node[font=\fs{9}\bfseries] at (408,563) {In-house cohort};
\node[font=\fs{9}\bfseries] at (606,569) {GSE102349};
\end{scope}
\end{tikzpicture}
\end{document}
